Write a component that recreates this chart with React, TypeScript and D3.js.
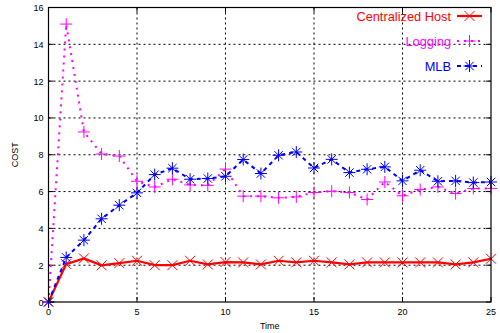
import React from "react";
import * as d3 from "d3";

const times = d3.range(0, 26);
const centralized = [0, 2.06, 2.37, 1.99, 2.11, 2.24, 2.0, 2.0, 2.24, 2.04, 2.17, 2.15, 2.04, 2.24, 2.15, 2.24, 2.15, 2.04, 2.15, 2.15, 2.15, 2.15, 2.15, 2.04, 2.15, 2.35];
const logging = [0, 15.1, 9.24, 8.04, 7.93, 6.56, 6.25, 6.67, 6.36, 6.34, 7.22, 5.75, 5.75, 5.66, 5.71, 5.95, 6.02, 5.95, 5.57, 6.52, 5.77, 6.11, 6.25, 5.89, 6.17, 6.17];
const mlb = [0, 2.42, 3.36, 4.52, 5.26, 5.93, 6.92, 7.27, 6.67, 6.71, 6.83, 7.74, 6.98, 7.97, 8.15, 7.28, 7.75, 7.03, 7.21, 7.34, 6.58, 7.16, 6.56, 6.58, 6.49, 6.52];
const xTicks = [0, 5, 10, 15, 20, 25];
const yTicks = [0, 2, 4, 6, 8, 10, 12, 14, 16];
const seriesNames = ["Centralized Host", "Logging", "MLB"];
const seriesColors = ["#ff0000", "#ff00ff", "#0000ff"];

const FONT = "'Liberation Sans', Arial, Helvetica, sans-serif";

function Marker({ kind, x, y, color }: { kind: string; x: number; y: number; color: string }) {
  const s = 5;
  const d = 4.2;
  if (kind === "x") {
    return <path d={`M${x - s},${y - s}L${x + s},${y + s}M${x - s},${y + s}L${x + s},${y - s}`} stroke={color} strokeWidth={1} fill="none" />;
  }
  if (kind === "+") {
    return <path d={`M${x - 6},${y}L${x + 6},${y}M${x},${y - 6}L${x},${y + 6}`} stroke={color} strokeWidth={1} fill="none" />;
  }
  return (
    <path
      d={`M${x - 6},${y}L${x + 6},${y}M${x},${y - 6}L${x},${y + 6}M${x - d},${y - d}L${x + d},${y + d}M${x - d},${y + d}L${x + d},${y - d}`}
      stroke={color}
      strokeWidth={1}
      fill="none"
    />
  );
}

export default function App() {
  const W = 500, H = 333;
  const left = 48.5, right = 491, top = 7.5, bottom = 302;
  const x = d3.scaleLinear().domain([0, 25]).range([left, right]);
  const y = d3.scaleLinear().domain([0, 16]).range([bottom, top]);
  const line = d3.line<number>().x((_, i) => x(times[i])).y((v) => y(v));

  const series = [
    { data: centralized, kind: "x", dash: undefined as string | undefined, width: 2.2, cap: "butt" },
    { data: logging, kind: "+", dash: "2 5", width: 2, cap: "butt" },
    { data: mlb, kind: "*", dash: "4 4", width: 2, cap: "butt" },
  ];

  const legendY = [16, 41, 66];

  return (
    <svg width={W} height={H} style={{ position: "absolute", left: 0, top: 0, background: "#fff" }}>
      {/* grid */}
      <g stroke="#000" strokeWidth={1} strokeDasharray="2 3">
        {xTicks.slice(1, -1).map((t) => (
          <line key={"gx" + t} x1={x(t)} x2={x(t)} y1={top} y2={bottom} />
        ))}
        {yTicks.slice(1, -1).map((t) => (
          <line key={"gy" + t} x1={left} x2={right} y1={y(t)} y2={y(t)} />
        ))}
      </g>
      {/* ticks */}
      <g stroke="#000" strokeWidth={1}>
        {xTicks.map((t) => (
          <g key={"tx" + t}>
            <line x1={x(t)} x2={x(t)} y1={bottom} y2={bottom - 5} />
            <line x1={x(t)} x2={x(t)} y1={top} y2={top + 5} />
          </g>
        ))}
        {yTicks.map((t) => (
          <g key={"ty" + t}>
            <line x1={left} x2={left + 5} y1={y(t)} y2={y(t)} />
            <line x1={right} x2={right - 5} y1={y(t)} y2={y(t)} />
          </g>
        ))}
      </g>
      {/* series */}
      {series.map((s, si) => (
        <g key={"s" + si}>
          <path
            d={line(s.data) || ""}
            fill="none"
            stroke={seriesColors[si]}
            strokeWidth={s.width}
            strokeDasharray={s.dash}
            strokeLinecap={s.cap as any}
          />
          {s.data.map((v, i) => (
            <Marker key={i} kind={s.kind} x={x(times[i])} y={y(v)} color={seriesColors[si]} />
          ))}
        </g>
      ))}
      {/* frame */}
      <rect x={left} y={top} width={right - left} height={bottom - top} fill="none" stroke="#000" strokeWidth={1.2} />
      {/* tick labels */}
      <g fontFamily={FONT} fontSize={9} fill="#000">
        {xTicks.map((t) => (
          <text key={"lx" + t} x={x(t)} y={bottom + 13} textAnchor="middle">
            {t}
          </text>
        ))}
        {yTicks.map((t) => (
          <text key={"ly" + t} x={left - 5} y={y(t) + 3.5} textAnchor="end">
            {t}
          </text>
        ))}
      </g>
      <text x={x(12.5)} y={329} textAnchor="middle" fontFamily={FONT} fontSize={9}>
        Time
      </text>
      <text transform={`translate(18,${(top + bottom) / 2}) rotate(-90)`} textAnchor="middle" fontFamily={FONT} fontSize={9}>
        COST
      </text>
      {/* legend */}
      {series.map((s, si) => (
        <g key={"lg" + si}>
          <text x={451} y={legendY[si] + 4.5} textAnchor="end" fontFamily={FONT} fontSize={12.8} fill={seriesColors[si]}>
            {seriesNames[si]}
          </text>
          <line
            x1={457}
            x2={482}
            y1={legendY[si]}
            y2={legendY[si]}
            stroke={seriesColors[si]}
            strokeWidth={s.width}
            strokeDasharray={s.dash}
            strokeLinecap={s.cap as any}
          />
          <Marker kind={s.kind} x={469.5} y={legendY[si]} color={seriesColors[si]} />
        </g>
      ))}
    </svg>
  );
}
